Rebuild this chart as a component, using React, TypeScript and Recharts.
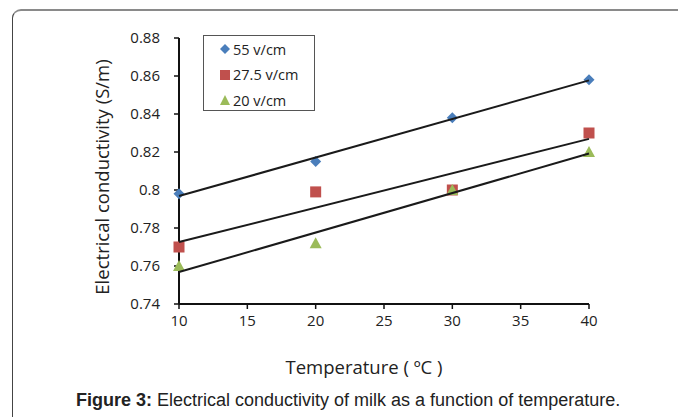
import React from 'react';
import { ScatterChart, Scatter, XAxis, YAxis, Legend } from 'recharts';

const temps = [10, 20, 30, 40];
const ec55 = [0.798, 0.815, 0.838, 0.858];
const ec275 = [0.77, 0.799, 0.8, 0.83];
const ec20 = [0.76, 0.772, 0.8, 0.82];
const trendX = [10, 40];
const trend55 = [0.7968, 0.8577];
const trend275 = [0.7726, 0.8269];
const trend20 = [0.7568, 0.8192];
const xTicks = [10, 15, 20, 25, 30, 35, 40];
const yTicks = [0.74, 0.76, 0.78, 0.8, 0.82, 0.84, 0.86, 0.88];
const seriesNames = ['55 v/cm', '27.5 v/cm', '20 v/cm'];

const BLUE = '#4A7EBB';
const RED = '#C0504D';
const GREEN = '#9BBB59';
const FONT = '"Open Sans", sans-serif';

const toPts = (xs: number[], ys: number[]) => xs.map((x, i) => ({ x, y: ys[i] }));
const d55 = toPts(temps, ec55);
const d275 = toPts(temps, ec275);
const d20 = toPts(temps, ec20);
const t55 = toPts(trendX, trend55);
const t275 = toPts(trendX, trend275);
const t20 = toPts(trendX, trend20);

const Diamond = (p: any) => {
  const { cx, cy } = p;
  const r = 5.5;
  return <path d={`M${cx},${cy - r}L${cx + r},${cy}L${cx},${cy + r}L${cx - r},${cy}Z`} fill={BLUE} />;
};
const Square = (p: any) => {
  const { cx, cy } = p;
  const s = 11;
  return <rect x={cx - s / 2} y={cy - s / 2} width={s} height={s} fill={RED} />;
};
const Triangle = (p: any) => {
  const { cx, cy } = p;
  return <path d={`M${cx},${cy - 6}L${cx + 6},${cy + 5}L${cx - 6},${cy + 5}Z`} fill={GREEN} />;
};
const Nothing = () => <g />;

const LegendBox = () => {
  const icons = [
    <svg width={10} height={10} key="a"><path d="M5,0L10,5L5,10L0,5Z" fill={BLUE} /></svg>,
    <svg width={10} height={10} key="b"><rect x={0} y={0} width={10} height={10} fill={RED} /></svg>,
    <svg width={10} height={10} key="c"><path d="M5,0L10,10L0,10Z" fill={GREEN} /></svg>,
  ];
  return (
    <div style={{ position: 'relative', width: 112, height: 76, boxSizing: 'border-box', border: '1px solid #555', background: '#fff' }}>
      {seriesNames.map((n, i) => (
        <div key={n} style={{ position: 'absolute', left: 16, top: 1 + i * 25.5, display: 'flex', alignItems: 'center', height: 24, fontFamily: FONT, fontSize: 14.5, color: '#222', whiteSpace: 'nowrap' }}>
          {icons[i]}
          <span style={{ marginLeft: 3 }}>{n}</span>
        </div>
      ))}
    </div>
  );
};

const YLabel = (props: any) => {
  const vb = props.viewBox;
  const cx = vb.x + vb.width - 78;
  const cy = vb.y + vb.height / 2 + 6;
  return (
    <text x={cx} y={cy} transform={`rotate(-90 ${cx} ${cy})`} textAnchor="middle" dominantBaseline="central" fontFamily={FONT} fontSize={18.5} fill="#222">
      Electrical conductivity (S/m)
    </text>
  );
};
const XLabel = (props: any) => {
  const vb = props.viewBox;
  const cx = vb.x + vb.width / 2 - 20;
  const cy = vb.y + 62;
  return (
    <text x={cx} y={cy} textAnchor="middle" dominantBaseline="central" fontFamily={FONT} fontSize={18.5} fill="#222">
      Temperature ( ºC )
    </text>
  );
};

export default function App() {
  return (
    <div style={{ position: 'fixed', left: 0, top: 0, width: 678, height: 417, overflow: 'hidden', background: '#fff' }}>
      <div style={{ position: 'absolute', left: 12, top: 9, width: 760, height: 500, borderLeft: '1px solid #444', borderTop: '2px solid #8a8a8a', borderTopLeftRadius: 9 }} />
      <div style={{ position: 'absolute', left: 0, top: 0 }}>
        <ScatterChart width={678} height={417} margin={{ top: 38, right: 89, bottom: 83, left: 119 }}>
          <XAxis
            type="number"
            dataKey="x"
            domain={[10, 40]}
            ticks={xTicks}
            tickSize={5}
            tickMargin={6}
            axisLine={{ stroke: '#111', strokeWidth: 2 }}
            tickLine={{ stroke: '#111', strokeWidth: 1.5 }}
            tick={{ fontFamily: FONT, fontSize: 15, fill: '#222' }}
            label={<XLabel />}
          />
          <YAxis
            type="number"
            dataKey="y"
            domain={[0.74, 0.88]}
            ticks={yTicks}
            width={60}
            tickSize={5}
            tickMargin={14}
            interval={0}
            axisLine={{ stroke: '#111', strokeWidth: 2 }}
            tickLine={{ stroke: '#111', strokeWidth: 1.5 }}
            tick={{ fontFamily: FONT, fontSize: 15, fill: '#222' }}
            tickFormatter={(v: number) => String(Number(v.toFixed(2)))}
            label={<YLabel />}
          />
          <Scatter name={seriesNames[0]} data={d55} shape={Diamond} isAnimationActive={false} />
          <Scatter name={seriesNames[1]} data={d275} shape={Square} isAnimationActive={false} />
          <Scatter name={seriesNames[2]} data={d20} shape={Triangle} isAnimationActive={false} />
          <Scatter data={t55} line={{ stroke: '#1a1a1a', strokeWidth: 2 }} shape={Nothing} legendType="none" isAnimationActive={false} />
          <Scatter data={t275} line={{ stroke: '#1a1a1a', strokeWidth: 2 }} shape={Nothing} legendType="none" isAnimationActive={false} />
          <Scatter data={t20} line={{ stroke: '#1a1a1a', strokeWidth: 2 }} shape={Nothing} legendType="none" isAnimationActive={false} />
          <Legend
            layout="vertical"
            align="center"
            verticalAlign="middle"
            content={<LegendBox />}
            wrapperStyle={{ position: 'absolute', left: 203, top: 35, width: 112, height: 76 }}
          />
        </ScatterChart>
      </div>
      <div style={{ position: 'absolute', left: 76, top: 390, whiteSpace: 'nowrap', fontFamily: '"Liberation Sans Narrow", "Arial Narrow", sans-serif', fontSize: 18, color: '#222' }}>
        <b>Figure 3:</b> Electrical conductivity of milk as a function of temperature.
      </div>
    </div>
  );
}
